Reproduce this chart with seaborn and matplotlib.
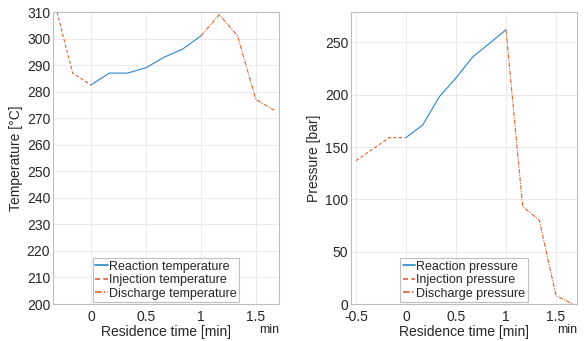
import pandas as pd
import seaborn as sns
import matplotlib.pyplot as plt

# residence time in minutes (10 s steps)
t_inj_temp = [-1/3, -1/6, 0]
temp_inj = [314, 287, 282.5]
t_react = [0, 1/6, 2/6, 3/6, 4/6, 5/6, 1]
temp_react = [282.5, 287, 287, 289, 293, 296, 301]
t_dis = [1, 7/6, 8/6, 9/6, 10/6]
temp_dis = [301, 309, 301, 277, 273]

t_inj_pres = [-0.5, -1/3, -1/6, 0]
pres_inj = [137, 148, 159, 159]
pres_react = [159, 171, 198, 216, 236, 249, 262]
pres_dis = [262, 93, 80, 8, 0]

blue = '#2a86c8'
orange = '#dd6230'

sns.set_style('whitegrid')
plt.rcParams['font.family'] = ['Liberation Sans', 'DejaVu Sans']
plt.rcParams['font.size'] = 10

fig = plt.figure(figsize=(5.88, 3.41), dpi=100)
ax1 = fig.add_axes([53/588, 37/341, 226/588, 292/341])
ax2 = fig.add_axes([351/588, 37/341, 226/588, 292/341])


def draw(ax, t_inj, inj, react, dis, name):
    sns.lineplot(x=t_react, y=react, ax=ax, color=blue, lw=0.8,
                 label='Reaction ' + name)
    sns.lineplot(x=t_inj, y=inj, ax=ax, color=orange, lw=0.8,
                 linestyle=(0, (3, 2)), label='Injection ' + name)
    sns.lineplot(x=t_dis, y=dis, ax=ax, color=orange, lw=0.8,
                 linestyle=(0, (4, 1.2, 1, 1.2)), label='Discharge ' + name)
    ax.set_xlabel('Residence time [min]', fontsize=10, color='#262626', labelpad=1)
    ax.text(1.0, -0.068, 'min', transform=ax.transAxes, ha='right', va='top',
            fontsize=9, color='#262626')
    leg = ax.legend(loc='lower center', bbox_to_anchor=(0.5, 0.0), fontsize=9,
                    frameon=True, fancybox=False, borderpad=0.2,
                    labelspacing=0.12, handlelength=1.0, handletextpad=0.1,
                    borderaxespad=0.15)
    leg.get_frame().set_edgecolor('#b0b0b0')
    leg.get_frame().set_linewidth(0.8)
    for line in leg.get_lines():
        line.set_linewidth(1.2)
    ax.grid(True, color='#ebebeb', lw=0.7)
    for s in ax.spines.values():
        s.set_visible(True)
        s.set_color('#bdbdbd')
        s.set_linewidth(0.8)
    ax.tick_params(direction='in', length=3, colors='#bdbdbd',
                   labelcolor='#262626', labelsize=10, pad=2)
    ax.tick_params(axis='x', pad=4)


draw(ax1, t_inj_temp, temp_inj, temp_react, temp_dis, 'temperature')
ax1.set_xlim(-0.345, 1.71)
ax1.set_ylim(200, 310)
ax1.set_xticks([0, 0.5, 1, 1.5])
ax1.set_xticklabels(['0', '0.5', '1', '1.5'])
ax1.set_yticks(range(200, 311, 10))
ax1.set_ylabel('Temperature [°C]', fontsize=10, color='#262626', labelpad=3)

draw(ax2, t_inj_pres, pres_inj, pres_react, pres_dis, 'pressure')
ax2.set_xlim(-0.55, 1.71)
ax2.set_ylim(0, 279)
ax2.set_xticks([-0.5, 0, 0.5, 1, 1.5])
ax2.set_xticklabels(['-0.5', '0', '0.5', '1', '1.5'])
ax2.set_yticks(range(0, 251, 50))
ax2.set_ylabel('Pressure [bar]', fontsize=10, color='#262626', labelpad=3)

fig.savefig('out.png', dpi=100)
